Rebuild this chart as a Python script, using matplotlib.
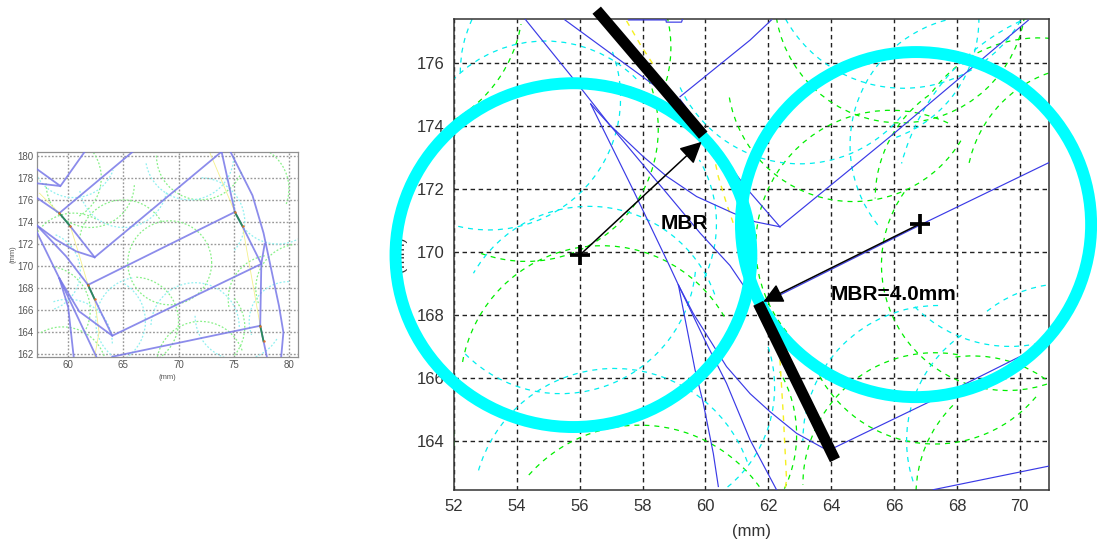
import matplotlib
matplotlib.use("Agg")
import matplotlib.pyplot as plt
from matplotlib.patches import Arc, Ellipse

W, H = 1097, 541

# ---------- main panel data ----------
main_xticks = [52, 54, 56, 58, 60, 62, 64, 66, 68, 70]
main_yticks = [164, 166, 168, 170, 172, 174, 176]
main_xlim = (52.0, 70.93)
main_ylim = (162.44, 177.40)

main_blue_paths = [
    [(54.26, 177.4), (56.0, 175.25), (56.96, 174.03), (59.83, 170.6), (60.78, 169.57), (61.2, 168.95), (61.7, 168.3)],
    [(61.7, 168.3), (67.04, 170.96), (70.93, 172.84)],
    [(55.53, 177.37), (58.5, 175.2), (59.19, 174.8)],
    [(59.19, 174.93), (61.42, 176.73), (62.1, 177.37)],
    [(59.19, 174.85), (61.31, 172.02), (62.37, 170.8)],
    [(56.35, 174.7), (56.96, 174.03), (58.02, 173.03), (58.77, 172.4), (59.72, 171.76), (60.89, 171.23), (61.58, 170.96), (62.37, 170.8)],
    [(62.37, 170.8), (65.98, 173.75), (70.27, 177.36)],
    [(56.35, 174.7), (57.7, 171.97), (58.87, 169.53), (59.14, 168.95)],
    [(59.14, 168.95), (59.67, 166.25), (59.93, 165.2), (60.25, 163.6), (60.41, 162.55)],
    [(59.14, 168.95), (59.98, 167.2), (60.67, 165.83), (61.42, 164.03), (62.26, 162.45)],
    [(59.14, 168.95), (59.61, 168.05), (60.67, 166.36), (61.42, 165.5), (62.05, 164.93), (62.9, 164.24), (63.75, 163.77), (64.07, 163.77)],
    [(64.07, 163.77), (67.04, 165.2), (70.43, 166.89), (70.93, 167.15)],
    [(67.25, 162.45), (70.93, 163.2)],
    [(57.55, 177.37), (58.75, 177.37), (58.75, 177.3), (59.24, 177.3), (59.27, 177.4)],
]

main_yellow_paths = [
    [(57.49, 177.34), (57.92, 176.6), (58.34, 175.95)],
    [(60.25, 173.13), (60.41, 172.39), (60.67, 171.54), (60.89, 170.9)],
    [(62.37, 166.57), (62.48, 164.77), (62.58, 162.76), (62.53, 162.45)],
]

# arcs: centre x, centre y, radius, start angle, end angle
main_green_arcs = [
    (55.9, 169.9, 5.6, 35, 150),
    (55.9, 169.9, 5.6, -45, -15),
    (56.7, 165.7, 4.5, 30, 170),
    (54.3, 173.9, 4.2, -110, 50),
    (49.8, 178.0, 4.4, -60, -10),
    (57.9, 159.8, 4.7, 28, 140),
    (66.2, 178.1, 4.0, 185, 355),
    (64.7, 175.6, 4.0, 190, 330),
    (72.2, 172.0, 3.9, 100, 170),
    (70.6, 172.6, 4.2, 85, 145),
    (65.9, 170.2, 4.3, 65, 220),
    (69.6, 169.6, 4.0, 145, 290),
    (67.3, 168.1, 4.2, 205, 322),
    (67.3, 162.6, 4.2, 80, 180),
    (68.5, 162.7, 4.0, 50, 100),
    (70.7, 162.3, 4.0, 135, 180),
    (58.9, 164.2, 4.0, -30, 30),
    (54.9, 176.5, 4.0, -20, 15),
    (69.4, 171.7, 4.0, 125, 180),
    (48.0, 164.0, 4.0, -25, 25),
]

main_cyan_arcs = [
    (54.9, 172.6, 4.1, 45, 135),
    (56.2, 175.7, 4.0, 155, 180),
    (53.1, 174.9, 4.2, -125, 22),
    (56.3, 167.2, 4.25, 20, 150),
    (55.4, 169.8, 4.3, 225, 355),
    (57.1, 161.8, 4.5, 20, 165),
    (58.1, 165.7, 4.1, -55, 20),
    (56.3, 170.9, 4.05, -25, 30),
    (63.0, 177.0, 4.2, 205, 320),
    (64.7, 177.4, 4.0, -70, 0),
    (66.3, 179.5, 4.3, 205, 335),
    (68.7, 173.4, 4.1, 105, 220),
    (73.0, 171.0, 7.0, 110, 165),
    (67.4, 164.0, 4.3, 90, 180),
    (71.5, 164.9, 4.1, 95, 130),
    (69.7, 171.3, 4.3, 225, 290),
    (70.5, 164.0, 4.1, 125, 200),
]

# MBR circles: centre x, centre y, x radius, y radius
mbr_circle_cx = [55.8, 66.7]
mbr_circle_cy = [169.9, 170.87]
mbr_circle_rx = [5.66, 5.57]
mbr_circle_ry = [5.46, 5.48]

plus_x = [56.0, 66.82]
plus_y = [169.9, 170.89]

bar_paths = [[(56.54, 177.68), (59.93, 173.71)], [(61.68, 168.37), (64.12, 163.4)]]
arrow_tips = [(59.88, 173.5), (61.84, 168.42)]

# ---------- small panel data ----------
small_xticks = [60, 65, 70, 75, 80]
small_yticks = [162, 164, 166, 168, 170, 172, 174, 176, 178, 180]
small_xlim = (57.15, 80.85)
small_ylim = (161.8, 180.36)

small_blue_paths = [
    [(57.15, 178.8), (59.3, 177.25), (57.15, 177.5)],
    [(59.3, 177.25), (61.5, 180.36)],
    [(57.15, 176.2), (59.2, 174.8), (60.2, 173.6), (62.4, 170.8), (73.9, 180.36)],
    [(59.2, 174.8), (65.85, 180.36)],
    [(57.15, 173.7), (58.9, 172.4), (60.7, 171.35), (62.4, 170.8)],
    [(57.15, 173.7), (59.8, 170.9), (61.8, 168.3), (75.1, 174.9), (75.8, 173.6), (77.5, 170.2), (64.0, 163.7), (62.4, 167.0), (61.8, 168.3)],
    [(75.1, 174.9), (73.9, 180.36)],
    [(57.15, 173.1), (59.2, 168.9), (60.0, 166.3), (60.5, 161.8)],
    [(59.2, 168.9), (61.0, 165.9), (64.0, 163.7)],
    [(59.2, 168.9), (62.55, 161.8)],
    [(64.0, 161.8), (77.4, 164.6), (78.0, 161.8)],
    [(77.4, 164.6), (77.5, 170.2), (77.8, 172.0)],
    [(74.7, 180.36), (76.7, 176.4), (77.7, 173.0), (79.1, 166.4), (79.5, 164.0), (79.3, 161.8)],
]

small_green_segments = [
    [(59.2, 174.8), (60.2, 173.6)],
    [(61.8, 168.3), (62.4, 167.0)],
    [(75.1, 174.9), (75.8, 173.6)],
    [(77.4, 164.6), (77.7, 163.2)],
]
small_orange_x = [59.2, 60.2, 61.8, 62.4, 75.1, 75.8, 77.4, 77.7]
small_orange_y = [174.8, 173.6, 168.3, 167.0, 174.9, 173.6, 164.6, 163.2]

small_yellow_paths = [
    [(57.4, 176.6), (59.2, 174.8)],
    [(60.2, 173.6), (61.0, 171.0), (61.8, 168.3)],
    [(62.4, 167.0), (62.8, 164.0), (62.4, 161.8)],
    [(72.8, 180.36), (75.1, 174.9)],
    [(75.8, 173.6), (76.8, 168.0), (77.4, 164.6)],
]

small_green_arcs = [
    (69.2, 170.3, 3.8, 0, 360),
    (62.0, 177.5, 4.0, 180, 360),
    (59.0, 178.0, 4.0, -60, 60),
    (60.5, 170.8, 4.0, 60, 180),
    (58.0, 166.0, 4.0, -30, 80),
    (59.5, 160.5, 4.0, 20, 120),
    (65.0, 172.0, 4.0, 30, 175),
    (72.0, 180.0, 4.0, 180, 340),
    (76.0, 177.0, 4.0, -20, 100),
    (72.0, 161.0, 4.0, 20, 170),
    (78.5, 167.0, 4.0, 100, 190),
    (66.0, 165.0, 4.0, -90, 90),
    (81.0, 168.0, 4.0, 100, 200),
    (72.0, 164.5, 4.0, -40, 40),
]

small_cyan_arcs = [
    (60.5, 180.0, 3.8, 180, 340),
    (65.0, 177.5, 4.0, 190, 350),
    (60.0, 163.0, 4.0, 0, 110),
    (57.5, 169.5, 3.6, -70, 70),
    (71.0, 180.0, 4.0, 190, 360),
    (71.5, 164.5, 4.0, 0, 180),
    (66.5, 165.0, 4.0, 100, 270),
    (79.0, 176.0, 4.0, 180, 300),
    (80.0, 165.0, 3.6, 90, 200),
    (72.0, 174.0, 4.0, -40, 90),
    (63.0, 165.0, 4.0, -80, 60),
    (75.5, 165.5, 4.0, 180, 330),
]

# ---------- labels ----------
mm_label = "(mm)"
mbr_label_left = "MBR"
mbr_label_right = "MBR=4.0mm"
mbr_left_pos = (59.33, 170.9)
mbr_right_pos = (65.98, 168.64)


def px_axes(left, top, right, bottom):
    return [left / W, 1 - bottom / H, (right - left) / W, (bottom - top) / H]


def add_arcs(ax, arcs, color, lw, ls, alpha=1.0, zorder=2):
    for cx, cy, r, t1, t2 in arcs:
        ax.add_patch(Arc((cx, cy), 2 * r, 2 * r, theta1=t1, theta2=t2, edgecolor=color,
                         linewidth=lw, linestyle=ls, alpha=alpha, zorder=zorder))


def add_paths(ax, paths, color, lw, ls="-", alpha=1.0, zorder=3):
    for p in paths:
        ax.plot([q[0] for q in p], [q[1] for q in p], color=color, lw=lw, ls=ls,
                alpha=alpha, zorder=zorder, solid_joinstyle="miter")


fig = plt.figure(figsize=(W / 100, H / 100), dpi=100, facecolor="white")
plt.rcParams["font.family"] = ["Liberation Sans", "DejaVu Sans"]

# ---------- small panel ----------
a1 = fig.add_axes(px_axes(36.7, 151.7, 298.3, 356.7))
a1.set_xlim(small_xlim)
a1.set_ylim(small_ylim)
a1.set_xticks(small_xticks)
a1.set_yticks(small_yticks)
a1.set_axisbelow(True)
a1.grid(True, color="#999999", lw=1.0, ls=(0, (1.3, 1.3)))
a1.tick_params(length=0, labelsize=7, labelcolor="#555555", pad=2.5)
for s in a1.spines.values():
    s.set_color("#909090")
    s.set_linewidth(0.9)
add_arcs(a1, small_green_arcs, "#88f088", 0.9, (0, (1.5, 1.5)))
add_arcs(a1, small_cyan_arcs, "#90f0f0", 0.9, (0, (1.5, 1.5)))
add_paths(a1, small_yellow_paths, "#f4f08a", 0.6, zorder=2.5)
add_paths(a1, small_blue_paths, "#7878e8", 1.3, alpha=0.85)
add_paths(a1, small_green_segments, "#2c8a5a", 1.3, zorder=4)
a1.scatter(small_orange_x, small_orange_y, s=3, color="#e07030", zorder=5, lw=0)
a1.set_xlabel(mm_label, fontsize=5.5, color="#555555", labelpad=3)
a1.set_ylabel(mm_label, fontsize=5.5, color="#555555", labelpad=0.5)

# ---------- main panel ----------
a2 = fig.add_axes(px_axes(454, 19, 1049, 490))
a2.set_xlim(main_xlim)
a2.set_ylim(main_ylim)
a2.set_xticks(main_xticks)
a2.set_yticks(main_yticks)
a2.set_axisbelow(True)
a2.grid(True, color="#222222", lw=1.0, ls=(0, (3.2, 2.6)))
a2.tick_params(length=0, labelsize=12, labelcolor="#333333", pad=6.5)
for s in a2.spines.values():
    s.set_color("#333333")
    s.set_linewidth(1.1)
dash = (0, (4.0, 4.0))
add_arcs(a2, main_green_arcs, "#00ee00", 0.9, dash)
add_arcs(a2, main_cyan_arcs, "#00eeee", 0.9, dash)
add_paths(a2, main_yellow_paths, "#f5f020", 1.0, ls=dash, zorder=2.5)
add_paths(a2, main_blue_paths, "#3a3ae6", 0.85)
a2.set_xlabel(mm_label, fontsize=12, color="#333333", labelpad=7.5)
a2.set_ylabel(mm_label, fontsize=11, color="#333333", labelpad=7)

for cx, cy, rx, ry in zip(mbr_circle_cx, mbr_circle_cy, mbr_circle_rx, mbr_circle_ry):
    a2.add_patch(Ellipse((cx, cy), 2 * rx, 2 * ry, fill=False, ec="#00ffff", lw=8.6,
                         clip_on=False, zorder=6))

for p in bar_paths:
    a2.plot([p[0][0], p[1][0]], [p[0][1], p[1][1]], color="black", lw=8.0,
            solid_capstyle="butt", clip_on=False, zorder=7)

for (tx, ty), sx, sy, scale in zip(arrow_tips, plus_x, plus_y, [22, 20]):
    a2.annotate("", xy=(tx, ty), xytext=(sx, sy), zorder=8,
                arrowprops=dict(arrowstyle="-|>,head_length=0.6,head_width=0.3", color="black",
                                lw=1.1, mutation_scale=scale, shrinkA=0, shrinkB=0))

a2.plot(plus_x, plus_y, ls="none", marker="+", ms=14.5, mew=2.7, color="black", zorder=9)

a2.text(*mbr_left_pos, mbr_label_left, fontsize=15, fontweight="bold", ha="center", va="center", zorder=10)
a2.text(*mbr_right_pos, mbr_label_right, fontsize=15, fontweight="bold", ha="center", va="center", zorder=10)

fig.savefig("out.png", dpi=100, facecolor="white")
